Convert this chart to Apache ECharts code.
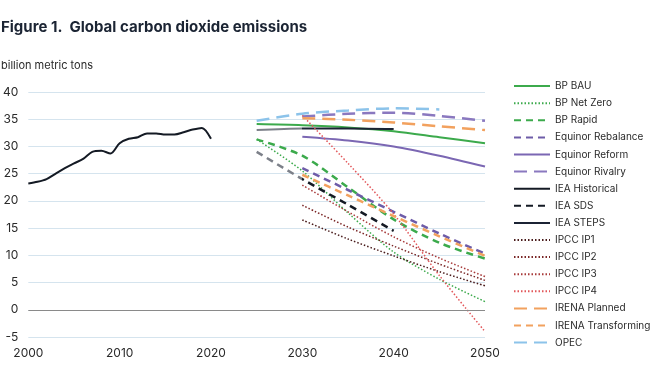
<!DOCTYPE html>
<html><head><meta charset="utf-8">
<script src="https://cdn.jsdelivr.net/npm/echarts@6/dist/echarts.min.js"></script>
<style>html,body{margin:0;padding:0;background:#fff}#c{width:650px;height:387px}</style>
</head><body><div id="c"></div>
<script>
// ---- data (billion metric tons CO2) ----
const seriesNames = ['BP BAU','BP Net Zero','BP Rapid','Equinor Rebalance','Equinor Reform','Equinor Rivalry','IEA Historical','IEA SDS','IEA STEPS','IPCC IP1','IPCC IP2','IPCC IP3','IPCC IP4','IRENA Planned','IRENA Transforming','OPEC'];
const bpBau = [[2025,34.1],[2030,33.9],[2035,33.5],[2040,32.8],[2045,31.7],[2050,30.6]];
const bpNetZero = [[2025,31.3],[2030,25.5],[2035,17.8],[2040,10.6],[2045,5.6],[2050,1.5]];
const bpRapid = [[2025,31.3],[2030,28.3],[2035,22.5],[2040,16.6],[2045,12.3],[2050,9.4]];
const eqRebalance = [[2030,26.0],[2035,22.0],[2040,18.0],[2045,14.0],[2050,10.3]];
const eqReform = [[2030,31.8],[2035,31.1],[2040,30.0],[2045,28.3],[2050,26.3]];
const eqRivalry = [[2030,35.5],[2035,36.0],[2040,36.2],[2045,35.6],[2050,34.7]];
const ieaHistorical = [[2000,23.2],[2001,23.5],[2002,24.0],[2003,25.0],[2004,26.0],[2005,26.9],[2006,27.7],[2007,29.0],[2008,29.2],[2009,28.7],[2010,30.6],[2011,31.4],[2012,31.7],[2013,32.4],[2014,32.4],[2015,32.2],[2016,32.2],[2017,32.6],[2018,33.1],[2019,33.4],[2020,31.4]];
const ieaSds = [[2025,29.0],[2030,24.0],[2035,19.3],[2040,14.5]];
const ieaSteps = [[2025,33.0],[2030,33.3],[2035,33.3],[2040,33.2]];
const ipccIp1 = [[2030,16.5],[2035,13.0],[2040,9.9],[2045,7.0],[2050,4.4]];
const ipccIp2 = [[2030,19.2],[2035,15.2],[2040,11.7],[2045,8.4],[2050,5.4]];
const ipccIp3 = [[2030,22.9],[2035,18.0],[2040,13.4],[2045,9.5],[2050,6.1]];
const ipccIp4 = [[2030,35.7],[2035,26.9],[2040,17.6],[2045,6.3],[2050,-4.0]];
const irenaPlanned = [[2030,35.2],[2035,34.9],[2040,34.4],[2045,33.7],[2050,33.0]];
const irenaTransforming = [[2030,24.8],[2035,21.0],[2040,17.2],[2045,13.5],[2050,9.9]];
const opec = [[2025,34.7],[2030,36.0],[2035,36.6],[2040,37.0],[2045,36.8]];
const yTicks = [-5,0,5,10,15,20,25,30,35,40];
const xTicks = [2000,2010,2020,2030,2040,2050];
const projectionStart = 2030; // IEA projections before this year are drawn grey

const GREEN='#3caa4c', PURPLE='#6e5ca8', PURPLE2='#7b67b3', PURPLE3='#8a78bf', BLACK='#141a24', NAVY='#1b2334', ORANGE='#f2a15e', BLUE='#8cc3ea', GREY='#7c8089';
const SHORT=[7,5], LONG=[13,7], DOT=[1.5,2];
function splitGradient(data, c1, c2){
  const x0 = data[0][0], x1 = data[data.length-1][0];
  const f = (projectionStart - x0) / (x1 - x0);
  return new echarts.graphic.LinearGradient(0,0,1,0,[
    {offset:0,color:c1},{offset:f,color:c1},{offset:Math.min(1,f+0.001),color:c2},{offset:1,color:c2}]);
}
function mk(name, data, color, type, width, extra){
  return Object.assign({
    name, type:'line', data, showSymbol:false, symbol:'none', smooth:0.3,
    lineStyle:{color, width, type}, itemStyle:{color}, emphasis:{disabled:true}
  }, extra||{});
}
function mkSplit(name, data, color, type, width){
  const s = mk(name, data, color, type, width);
  s.lineStyle = {color: splitGradient(data, GREY, color), width, type};
  return s;
}
const series = [
  mk('BP BAU', bpBau, GREEN, 'solid', 2),
  mk('BP Net Zero', bpNetZero, GREEN, DOT, 1.5),
  mk('BP Rapid', bpRapid, GREEN, SHORT, 2.5),
  mk('Equinor Rebalance', eqRebalance, PURPLE, SHORT, 2.5),
  mk('Equinor Reform', eqReform, PURPLE2, 'solid', 2),
  mk('Equinor Rivalry', eqRivalry, PURPLE3, LONG, 2.5),
  mk('IEA Historical', ieaHistorical, BLACK, 'solid', 2),
  mkSplit('IEA SDS', ieaSds, BLACK, SHORT, 2.5),
  mkSplit('IEA STEPS', ieaSteps, NAVY, 'solid', 2),
  mk('IPCC IP1', ipccIp1, '#4a1c1c', DOT, 1.5),
  mk('IPCC IP2', ipccIp2, '#7a2626', DOT, 1.5),
  mk('IPCC IP3', ipccIp3, '#a83a3a', DOT, 1.5),
  mk('IPCC IP4', ipccIp4, '#e2575a', DOT, 1.5),
  mk('IRENA Planned', irenaPlanned, ORANGE, LONG, 2.5),
  mk('IRENA Transforming', irenaTransforming, ORANGE, SHORT, 2.5),
  mk('OPEC', opec, BLUE, LONG, 2.5)
];
// zero line
series.push({type:'line', data:[], silent:true, z:1,
  markLine:{silent:true, symbol:['none','none'], label:{show:false}, animation:false,
    lineStyle:{color:'#8a8a8a', type:'solid', width:1}, data:[{yAxis:0}]}});

const legendData = seriesNames.map((n,i)=>({name:n, lineStyle:{color: series[i].itemStyle.color}}));
const chart = echarts.init(document.getElementById('c'), null, {renderer:'canvas'});
chart.setOption({
  animation:false,
  backgroundColor:'#fff',
  textStyle:{fontFamily:'Inter'},
  title:[
    {text:'Figure 1.  Global carbon dioxide emissions', left:1, top:20, padding:0, textStyle:{fontFamily:'Inter', fontSize:15, fontWeight:'bold', color:'#1b2433'}},
    {text:'billion metric tons', left:1, top:60, padding:0, textStyle:{fontFamily:'Inter', fontSize:11, fontWeight:'normal', color:'#2a2a2a'}}
  ],
  legend:{
    orient:'vertical', left:513, top:80.5, padding:0, itemWidth:36, itemHeight:14, itemGap:5.9,
    data:legendData, selectedMode:false, itemStyle:{opacity:0},
    textStyle:{fontFamily:'Inter', fontSize:10, color:'#2a2a2a'}
  },
  grid:{left:27, right:165, top:92, bottom:50},
  xAxis:{type:'value', min:xTicks[0], max:xTicks[xTicks.length-1], interval:10,
    axisLine:{show:false}, axisTick:{show:false}, splitLine:{show:false},
    axisLabel:{margin:10, fontSize:12, color:'#2a2a2a', fontFamily:'Inter', formatter:v=>String(v)}},
  yAxis:{type:'value', min:yTicks[0], max:yTicks[yTicks.length-1], interval:5,
    axisLine:{show:false}, axisTick:{show:false},
    splitLine:{lineStyle:{color:'#d5e4ee', width:1}},
    axisLabel:{margin:10, fontSize:12, color:'#2a2a2a', fontFamily:'Inter'}},
  series
});
</script></body></html>
